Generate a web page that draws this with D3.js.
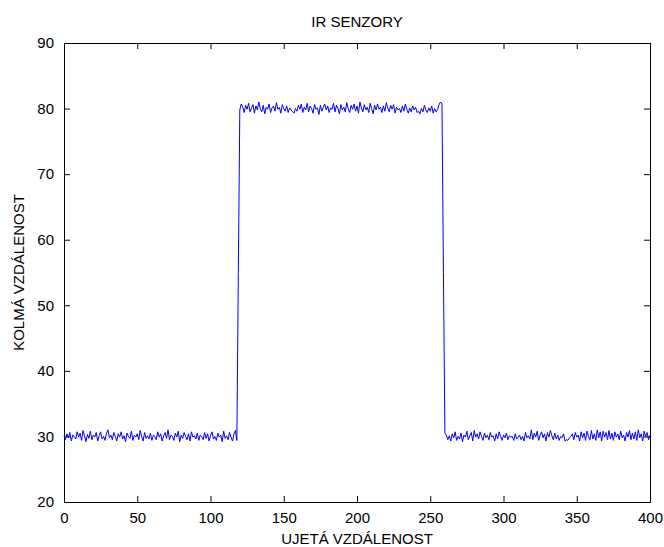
<!DOCTYPE html>
<html>
  <head>
    <meta charset="UTF-8" />
    <style>
      body {
        margin: 0;
        background: #fff;
      }
      svg text {
        font-family: "Liberation Sans", Arial, sans-serif;
        fill: #000;
      }
    </style>
  </head>
  <body>
    <svg></svg>
    <script src="https://d3js.org/d3.v7.min.js"></script>
    <script>
      // signal, one value per unit of x (0..400)
      var lowStart = [
        30.1, 29.5, 30.4, 29.8, 30.6, 29.3, 30.2, 30.0, 29.6, 30.7,
        29.9, 30.5, 29.4, 30.9, 30.1, 29.2, 30.3, 29.7, 30.8, 29.5,
        30.2, 29.9, 30.6, 29.3, 30.1, 30.7, 29.6, 30.0, 29.4, 30.5,
        31.0, 29.8, 30.2, 29.5, 30.6, 30.0, 29.3, 30.4, 29.9, 30.7,
        29.6, 30.1, 29.2, 30.5, 30.0, 29.7, 30.8, 29.4, 30.2, 29.9,
        30.4, 29.5, 30.9, 30.0, 29.3, 30.6, 29.7, 30.1, 29.6, 30.5,
        29.4, 30.2, 30.0, 29.5, 30.7, 29.9, 30.4, 29.3, 30.1, 30.6,
        29.7, 31.0, 29.5, 30.2, 30.0, 29.4, 30.5, 29.9, 30.8, 29.2,
        30.2, 29.7, 30.6, 30.0, 29.5, 30.4, 29.3, 30.7, 29.9, 30.1,
        29.6, 30.5, 29.4, 30.2, 30.0, 29.5, 30.6, 29.7, 30.4, 29.3,
        30.1, 30.7, 29.6, 30.0, 29.4, 30.5, 29.9, 30.2, 29.2, 30.8,
        29.7, 30.1, 29.5, 30.6, 29.9, 29.3, 30.4, 30.9, 29.4
      ];
      var riseEdge = [55];
      var plateau = [
        79.8, 80.7, 80.2, 79.4, 80.5, 79.9, 80.8, 79.5, 80.1, 80.6,
        79.3, 80.4, 79.8, 81.0, 80.0, 79.5, 80.5, 79.2, 80.2, 79.9,
        80.7, 79.4, 80.1, 80.4, 79.6, 80.9, 79.9, 80.2, 79.3, 80.6,
        80.0, 79.6, 80.4, 79.4, 80.1, 79.8, 79.5, 79.3, 80.0, 79.6,
        80.5, 79.9, 80.7, 79.4, 80.2, 79.8, 80.8, 79.5, 80.4, 80.0,
        79.3, 80.6, 79.9, 80.1, 79.1, 80.5, 79.6, 80.2, 80.7, 79.8,
        80.4, 79.4, 80.1, 79.9, 80.8, 79.5, 80.5, 80.0, 79.2, 80.6,
        79.8, 80.2, 79.5, 80.9, 80.0, 79.4, 80.5, 79.9, 80.7, 79.6,
        80.4, 79.3, 81.0, 80.1, 79.5, 80.6, 79.8, 80.2, 79.4, 80.8,
        80.0, 79.2, 80.5, 79.8, 80.7, 79.9, 80.2, 79.4, 80.4, 79.6,
        80.9, 80.1, 79.5, 80.5, 79.9, 80.6, 79.3, 80.2, 79.8, 80.0,
        79.4, 80.4, 79.6, 80.7, 79.9, 79.3, 80.1, 79.5, 80.4, 79.8,
        80.2, 79.4, 79.6, 79.2, 80.0, 79.5, 80.5, 79.8, 79.4, 80.1,
        79.6, 80.4, 79.3, 80.0, 79.5, 79.8, 80.6, 81.0, 80.7
      ];
      var fallEdge = [55];
      var lowEnd = [
        30.5, 30.2, 29.5, 30.1, 29.3, 30.4, 29.8, 30.7, 29.4, 30.0,
        29.6, 30.5, 29.2, 30.2, 29.9, 30.8, 29.5, 30.1, 30.6, 29.3,
        30.9, 29.9, 30.4, 29.6, 30.7, 30.0, 29.4, 30.5, 29.8, 30.2,
        29.5, 30.6, 29.9, 30.1, 29.3, 30.4, 29.6, 30.7, 30.0, 29.4,
        30.2, 29.8, 30.5, 29.5, 30.1, 29.9, 30.0, 29.4, 30.4, 29.6,
        29.9, 30.2, 29.5, 30.0, 29.3, 30.6, 29.8, 30.1, 29.6, 31.0,
        29.5, 30.5, 29.9, 30.8, 29.4, 30.2, 30.7, 29.8, 30.4, 29.3,
        30.6, 29.9, 30.9, 30.1, 29.5, 30.5, 29.6, 30.2, 29.4, 30.0,
        29.8, 30.4, 29.3, 29.5, 29.4, 29.8, 30.0, 30.4, 29.5, 30.6,
        29.9, 30.2, 29.3, 30.7, 29.8, 30.5, 29.4, 30.8, 30.0, 29.5,
        30.9, 29.6, 30.4, 29.4, 31.0, 29.8, 30.7, 29.3, 30.8, 29.9,
        30.6, 29.5, 30.9, 29.6, 30.5, 29.4, 30.7, 29.9, 30.4, 29.5,
        30.8, 29.8, 30.2, 29.3, 30.6, 29.9, 30.9, 29.5, 30.5, 29.6,
        30.7, 29.4, 31.0, 29.8, 30.4, 29.3, 30.8, 29.9, 30.6, 29.5,
        30.2
      ];

      var xTicks = [0, 50, 100, 150, 200, 250, 300, 350, 400];
      var yTicks = [20, 30, 40, 50, 60, 70, 80, 90];

      var title = "IR SENZORY";
      var xTitle = "UJETÁ VZDÁLENOST";
      var yTitle = "KOLMÁ VZDÁLENOST";

      let width = 664,
        height = 547;
      let margin = { top: 43, right: 14, bottom: 45, left: 64 };
      let innerW = width - margin.left - margin.right,
        innerH = height - margin.top - margin.bottom;

      let svg = d3
        .select("svg")
        .attr("width", width)
        .attr("height", height);

      let signal = lowStart.concat(riseEdge, plateau, fallEdge, lowEnd);
      let data = signal.map((v, i) => ({ x: i, y: v }));

      var x = d3.scaleLinear().domain([0, 400]).range([0, innerW]);
      var y = d3.scaleLinear().domain([20, 90]).range([innerH, 0]);

      let g = svg
        .append("g")
        .attr("transform", "translate(" + margin.left + "," + margin.top + ")");

      // MATLAB style: ticks pointing inward on all four sides
      let tickLen = 6;
      function styleAxis(sel) {
        sel.selectAll("path").attr("stroke", "#000").attr("stroke-width", 1);
        sel.selectAll("line").attr("stroke", "#000");
        sel.selectAll("text").style("font-size", "15px");
      }

      g.append("g")
        .attr("transform", "translate(0," + innerH + ")")
        .call(
          d3.axisBottom(x).tickValues(xTicks).tickSizeInner(-tickLen).tickSizeOuter(0).tickPadding(10)
        )
        .call(styleAxis);

      g.append("g")
        .call(
          d3.axisTop(x).tickValues(xTicks).tickSizeInner(-tickLen).tickSizeOuter(0).tickFormat("")
        )
        .call(styleAxis);

      g.append("g")
        .call(
          d3.axisLeft(y).tickValues(yTicks).tickSizeInner(-tickLen).tickSizeOuter(0).tickPadding(10)
        )
        .call(styleAxis);

      g.append("g")
        .attr("transform", "translate(" + innerW + ",0)")
        .call(
          d3.axisRight(y).tickValues(yTicks).tickSizeInner(-tickLen).tickSizeOuter(0).tickFormat("")
        )
        .call(styleAxis);

      let line = d3
        .line()
        .x((d) => x(d.x))
        .y((d) => y(d.y));

      g.append("path")
        .datum(data)
        .attr("fill", "none")
        .attr("stroke", "#0000ff")
        .attr("stroke-width", 1)
        .attr("d", line);

      svg
        .append("text")
        .attr("x", margin.left + innerW / 2)
        .attr("y", 27)
        .attr("text-anchor", "middle")
        .style("font-size", "15px")
        .text(title);

      svg
        .append("text")
        .attr("x", margin.left + innerW / 2)
        .attr("y", 544)
        .attr("text-anchor", "middle")
        .style("font-size", "15px")
        .text(xTitle);

      svg
        .append("text")
        .attr("transform", "translate(24," + (margin.top + innerH / 2) + ") rotate(-90)")
        .attr("text-anchor", "middle")
        .style("font-size", "15px")
        .text(yTitle);
    </script>
  </body>
</html>
